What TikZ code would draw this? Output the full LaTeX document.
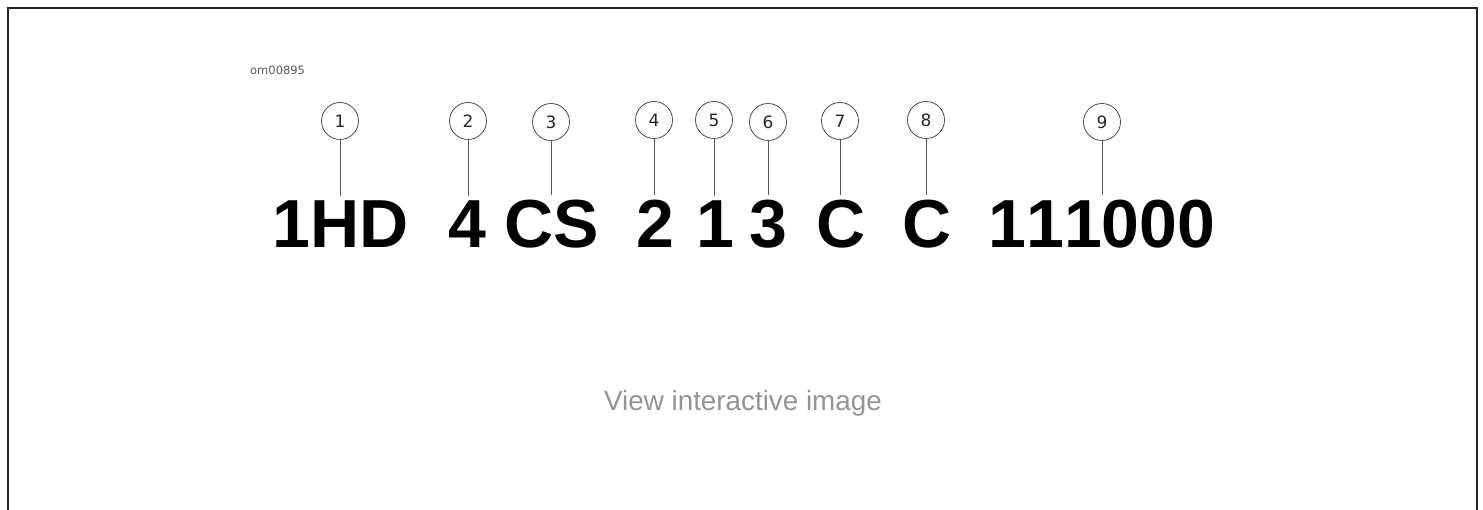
\documentclass[tikz,border=0pt]{standalone}
\usepackage{fontspec}
\setmainfont{Liberation Sans}
\newfontfamily\dvs{DejaVu Sans}
\newfontfamily\bigfont[Kerning=Off]{Liberation Sans}
\begin{document}
\begin{tikzpicture}[x=1pt,y=-1pt,
  big/.style={inner sep=0pt,anchor=base,font=\bigfont\fontsize{68}{68}\selectfont\bfseries},
  callout/.style={draw=black!70,circle,line width=0.8pt,minimum size=37pt,inner sep=0pt,font=\dvs\fontsize{17}{17}\selectfont,text=black!85},
  lead/.style={draw=black!65,line width=0.9pt}]
\useasboundingbox (0,0) rectangle (1483,510);
\draw[line width=2pt,black!85] (8,512) -- (8,8) -- (1477,8) -- (1477,512);
\node[anchor=west,text=black!65,font=\dvs\fontsize{11.5}{11.5}\selectfont,inner sep=0pt] (code) at (250,70) {om00895};
% big text
\node[big] (p1) at (341,248) {1HD};
\node[big] (p2) at (467,248) {4};
\node[big] (p3) at (552,248) {CS};
\node[big] (p4) at (655,248) {2};
\node[big] (p5) at (715,248) {1};
\node[big] (p6) at (768,248) {3};
\node[big] (p7) at (841,248) {C};
\node[big] (p8) at (927,248) {C};
\node[big] (p9) at (1102,248) {111000};
% callouts
\node[callout] (c1) at (340,121) {1};
\node[callout] (c2) at (468,121) {2};
\node[callout] (c3) at (551,122) {3};
\node[callout] (c4) at (654,120) {4};
\node[callout] (c5) at (714,120) {5};
\node[callout] (c6) at (768,122) {6};
\node[callout] (c7) at (840,121) {7};
\node[callout] (c8) at (926,120) {8};
\node[callout] (c9) at (1102,122) {9};
\foreach \i in {1,...,9}{
  \draw[lead] (c\i.south) -- ([yshift=5pt]p\i.north -| c\i.south);
}
\node[text=black!42,font=\fontsize{27.8}{27.8}\selectfont,inner sep=0pt] (view) at (743,403) {View interactive image};
\end{tikzpicture}
\end{document}
